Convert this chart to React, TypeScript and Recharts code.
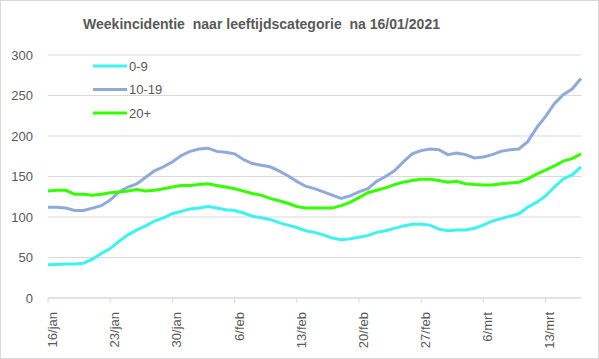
import { LineChart, Line, XAxis, YAxis, CartesianGrid } from "recharts";

const dates = [
  "16/jan", "17/jan", "18/jan", "19/jan", "20/jan", "21/jan", "22/jan", "23/jan", "24/jan", "25/jan",
  "26/jan", "27/jan", "28/jan", "29/jan", "30/jan", "31/jan", "1/feb", "2/feb", "3/feb", "4/feb",
  "5/feb", "6/feb", "7/feb", "8/feb", "9/feb", "10/feb", "11/feb", "12/feb", "13/feb", "14/feb",
  "15/feb", "16/feb", "17/feb", "18/feb", "19/feb", "20/feb", "21/feb", "22/feb", "23/feb", "24/feb",
  "25/feb", "26/feb", "27/feb", "28/feb", "1/mrt", "2/mrt", "3/mrt", "4/mrt", "5/mrt", "6/mrt",
  "7/mrt", "8/mrt", "9/mrt", "10/mrt", "11/mrt", "12/mrt", "13/mrt", "14/mrt", "15/mrt", "16/mrt",
  "17/mrt",
];

const age0to9 = [
  41, 41.5, 42, 42, 43, 48, 55, 61, 70, 78,
  84, 89, 95, 99, 104, 107, 110, 111, 113, 111,
  109, 108, 105, 101, 99, 97, 93, 90, 87, 83,
  81, 78, 74, 72, 73, 75, 77, 81, 83, 86,
  89, 91, 91, 90, 85, 83, 84, 84, 86, 90,
  95, 98, 101, 104, 112, 118, 126, 137, 147, 152,
  162,
];

const age10to19 = [
  112, 112, 111, 108, 108, 111, 114, 121, 131, 137,
  141, 149, 157, 162, 168, 176, 181, 184, 185, 181,
  180, 178, 171, 166, 164, 162, 157, 151, 144, 138,
  135, 131, 127, 123, 126, 131, 135, 144, 150, 157,
  168, 178, 182, 184, 183, 177, 179, 177, 173, 174,
  177, 181, 183, 184, 193, 210, 224, 240, 251, 258,
  271,
];

const age20plus = [
  132, 133, 133, 128, 128, 127, 128, 130, 131, 132,
  134, 132, 133, 135, 137, 139, 139, 140, 141, 139,
  137, 135, 132, 129, 127, 123, 120, 117, 113, 111,
  111, 111, 111, 114, 118, 124, 130, 133, 136, 140,
  143, 145, 146.5, 146.5, 145, 143, 144, 141, 140, 139.5,
  139.5, 141, 142, 143, 147, 153, 158, 163, 169, 172,
  178,
];

const yTicks = [0, 50, 100, 150, 200, 250, 300];

const series = [
  { key: "a", name: "0-9", color: "#3ff2f2" },
  { key: "b", name: "10-19", color: "#8eaadb" },
  { key: "c", name: "20+", color: "#33ff00" },
];

const data = dates.map((d, i) => ({
  date: d,
  a: age0to9[i],
  b: age10to19[i],
  c: age20plus[i],
}));

const font = "'Liberation Sans', Arial, sans-serif";
const textColor = "#595959";

function DateTick(props: any) {
  const { x, y, payload } = props;
  return (
    <text
      transform={`translate(${x + 9},${y + 7}) rotate(-90)`}
      textAnchor="end"
      fontSize={13}
      fill={textColor}
      fontFamily={font}
    >
      {payload.value}
    </text>
  );
}

export default function App() {
  return (
    <div
      style={{
        position: "absolute",
        left: 0,
        top: 0,
        width: 599,
        height: 359,
        border: "1px solid #d9d9d9",
        boxSizing: "border-box",
        background: "#fff",
      }}
    >
      <div style={{ position: "absolute", left: -1, top: -1 }}>
        <LineChart
          width={599}
          height={359}
          data={data}
          margin={{ top: 55, right: 18, bottom: 0, left: 8 }}
        >
          <CartesianGrid vertical={false} stroke="#d9d9d9" />
          <XAxis
            dataKey="date"
            interval={6}
            height={61}
            tick={<DateTick />}
            tickSize={5}
            tickLine={{ stroke: "#d9d9d9" }}
            axisLine={{ stroke: "#d9d9d9" }}
            padding={{ left: 0, right: 0 }}
          />
          <YAxis
            width={40}
            domain={[0, 300]}
            ticks={yTicks}
            axisLine={false}
            tickLine={false}
            tickSize={0}
            tickMargin={15}
            tick={{ fontSize: 13, fill: textColor, fontFamily: font }}
          />
          {series.map((s) => (
            <Line
              key={s.key}
              dataKey={s.key}
              name={s.name}
              stroke={s.color}
              strokeWidth={3}
              dot={false}
              type="linear"
              isAnimationActive={false}
            />
          ))}
        </LineChart>
      </div>
      <svg width={599} height={130} style={{ position: "absolute", left: -1, top: -1 }}>
        <text
          x={83}
          y={29}
          textLength={357}
          lengthAdjust="spacingAndGlyphs"
          fontFamily={font}
          fontWeight="bold"
          fontSize={15.5}
          fill={textColor}
          style={{ whiteSpace: "pre" }}
        >
          {"Weekincidentie  naar leeftijdscategorie  na 16/01/2021"}
        </text>
        {series.map((s, i) => (
          <g key={s.key}>
            <line x1={93} x2={127} y1={66 + i * 23.5} y2={66 + i * 23.5} stroke={s.color} strokeWidth={3} />
            <text x={129} y={70.5 + i * 23.5} fontFamily={font} fontSize={13} fill={textColor}>
              {s.name}
            </text>
          </g>
        ))}
      </svg>
    </div>
  );
}
